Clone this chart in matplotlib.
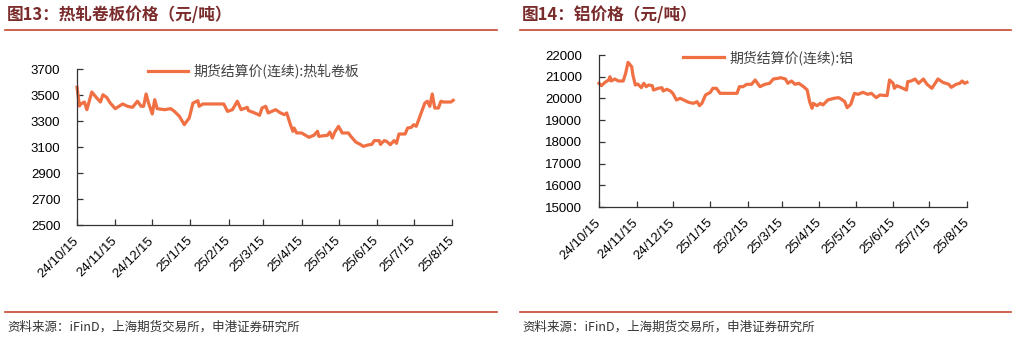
import matplotlib
matplotlib.use('Agg')
import matplotlib.pyplot as plt
import matplotlib.transforms as mtransforms
from matplotlib.lines import Line2D
import pandas as pd

# 热轧卷板 期货结算价(连续), 元/吨
hrc_dates = ['2024-10-15', '2024-10-17', '2024-10-18', '2024-10-21', '2024-10-23', '2024-10-27',
             '2024-10-31', '2024-11-03', '2024-11-05', '2024-11-08', '2024-11-11', '2024-11-15',
             '2024-11-21', '2024-11-25', '2024-11-29', '2024-12-03', '2024-12-06', '2024-12-08',
             '2024-12-10', '2024-12-12', '2024-12-15', '2024-12-17', '2024-12-19', '2024-12-25',
             '2024-12-30', '2025-01-02', '2025-01-06', '2025-01-10', '2025-01-14', '2025-01-17',
             '2025-01-21', '2025-01-22', '2025-01-25', '2025-02-11', '2025-02-14', '2025-02-18',
             '2025-02-22', '2025-02-25', '2025-03-02', '2025-03-03', '2025-03-08', '2025-03-12',
             '2025-03-14', '2025-03-17', '2025-03-19', '2025-03-25', '2025-03-29', '2025-04-01',
             '2025-04-03', '2025-04-06', '2025-04-08', '2025-04-09', '2025-04-11', '2025-04-15',
             '2025-04-21', '2025-04-25', '2025-04-28', '2025-04-29', '2025-05-06', '2025-05-08',
             '2025-05-10', '2025-05-12', '2025-05-15', '2025-05-18', '2025-05-23', '2025-05-25',
             '2025-05-29', '2025-06-02', '2025-06-04', '2025-06-09', '2025-06-11', '2025-06-13',
             '2025-06-17', '2025-06-18', '2025-06-21', '2025-06-23', '2025-06-26', '2025-06-29',
             '2025-07-01', '2025-07-03', '2025-07-08', '2025-07-10', '2025-07-13', '2025-07-15',
             '2025-07-17', '2025-07-19', '2025-07-22', '2025-07-24', '2025-07-26', '2025-07-28',
             '2025-07-30', '2025-08-01', '2025-08-04', '2025-08-06', '2025-08-08', '2025-08-14',
             '2025-08-16']
hrc_price = [3560, 3415, 3430, 3446, 3387, 3523,
             3477, 3446, 3502, 3482, 3438, 3395,
             3431, 3413, 3405, 3452, 3413, 3413,
             3508, 3438, 3354, 3464, 3395, 3387,
             3395, 3374, 3336, 3272, 3323, 3438,
             3456, 3413, 3431, 3431, 3374, 3387,
             3452, 3387, 3405, 3380, 3362, 3344,
             3400, 3413, 3362, 3387, 3362, 3349,
             3362, 3272, 3221, 3246, 3208, 3208,
             3175, 3190, 3221, 3182, 3190, 3215,
             3169, 3215, 3259, 3208, 3208, 3182,
             3138, 3118, 3105, 3118, 3120, 3149,
             3149, 3120, 3149, 3143, 3118, 3149,
             3128, 3200, 3200, 3246, 3251, 3272,
             3259, 3310, 3387, 3438, 3452, 3413,
             3508, 3400, 3400, 3452, 3446, 3446,
             3459]

# 铝 期货结算价(连续), 元/吨
al_dates = ['2024-10-15', '2024-10-17', '2024-10-20', '2024-10-23', '2024-10-24', '2024-10-25',
            '2024-10-28', '2024-10-31', '2024-11-04', '2024-11-06', '2024-11-08', '2024-11-11',
            '2024-11-12', '2024-11-14', '2024-11-16', '2024-11-19', '2024-11-21', '2024-11-23',
            '2024-11-25', '2024-11-28', '2024-11-29', '2024-12-03', '2024-12-06', '2024-12-07',
            '2024-12-10', '2024-12-13', '2024-12-15', '2024-12-18', '2024-12-21', '2024-12-24',
            '2024-12-28', '2025-01-01', '2025-01-04', '2025-01-06', '2025-01-08', '2025-01-11',
            '2025-01-15', '2025-01-17', '2025-01-20', '2025-01-23', '2025-01-30', '2025-02-06',
            '2025-02-08', '2025-02-11', '2025-02-14', '2025-02-18', '2025-02-21', '2025-02-25',
            '2025-03-01', '2025-03-05', '2025-03-08', '2025-03-12', '2025-03-14', '2025-03-18',
            '2025-03-20', '2025-03-23', '2025-03-26', '2025-03-29', '2025-04-02', '2025-04-05',
            '2025-04-07', '2025-04-09', '2025-04-10', '2025-04-13', '2025-04-16', '2025-04-18',
            '2025-04-22', '2025-04-27', '2025-05-01', '2025-05-03', '2025-05-06', '2025-05-08',
            '2025-05-11', '2025-05-14', '2025-05-17', '2025-05-21', '2025-05-25', '2025-05-28',
            '2025-06-01', '2025-06-04', '2025-06-10', '2025-06-12', '2025-06-15', '2025-06-16',
            '2025-06-18', '2025-06-22', '2025-06-26', '2025-06-27', '2025-06-30', '2025-07-03',
            '2025-07-06', '2025-07-10', '2025-07-13', '2025-07-17', '2025-07-22', '2025-07-26',
            '2025-07-31', '2025-08-02', '2025-08-06', '2025-08-09', '2025-08-11', '2025-08-13',
            '2025-08-15']
al_price = [20697, 20587, 20742, 20849, 21000, 20803,
            20895, 20803, 20803, 21157, 21664, 21462,
            21079, 20619, 20665, 20495, 20697, 20541,
            20619, 20587, 20388, 20465, 20495, 20342,
            20419, 20342, 20235, 19928, 20005, 19928,
            19821, 19774, 19851, 19667, 19774, 20158,
            20281, 20465, 20465, 20235, 20235, 20235,
            20541, 20541, 20649, 20649, 20849, 20541,
            20649, 20697, 20895, 20926, 20955, 20895,
            20697, 20803, 20649, 20697, 20541, 20388,
            19851, 19544, 19774, 19667, 19774, 19698,
            19928, 20005, 20035, 19974, 19851, 19575,
            19729, 20235, 20189, 20281, 20189, 20235,
            20035, 20158, 20127, 20849, 20697, 20465,
            20587, 20495, 20388, 20772, 20803, 20895,
            20697, 20895, 20649, 20465, 20895, 20742,
            20649, 20510, 20649, 20697, 20803, 20697,
            20742]

month_ticks = ['2024-10-15', '2024-11-15', '2024-12-15', '2025-01-15', '2025-02-15', '2025-03-15',
               '2025-04-15', '2025-05-15', '2025-06-15', '2025-07-15', '2025-08-15']

hrc_yticks = [2500, 2700, 2900, 3100, 3300, 3500, 3700]
al_yticks = [15000, 16000, 17000, 18000, 19000, 20000, 21000, 22000]

LINE = '#F07044'
TITLE = '#7A2B2B'
RULE = '#C4472C'
SANS = ['Liberation Sans', 'Noto Sans CJK SC']
CJK = ['Noto Sans CJK SC', 'DejaVu Sans']

W, H = 1017, 341
fig = plt.figure(figsize=(W / 100, H / 100), dpi=100)


def px_rect(x0, y0, x1, y1):
    return [x0 / W, 1 - y1 / H, (x1 - x0) / W, (y1 - y0) / H]


def draw_panel(rect, dates, values, yticks, label, legend_at):
    ax = fig.add_axes(rect)
    ticks = pd.to_datetime(month_ticks)
    ax.plot(pd.to_datetime(dates), values, color=LINE, lw=2.3, label=label,
            clip_on=False, solid_joinstyle='round')
    ax.set_xlim(ticks[0], ticks[-1])
    ax.set_ylim(yticks[0], yticks[-1])
    ax.set_yticks(yticks)
    ax.set_yticklabels([str(v) for v in yticks], fontfamily=SANS, fontsize=9.5)
    ax.set_xticks(ticks)
    ax.set_xticklabels(['%d/%d/%d' % (t.year % 100, t.month, t.day) for t in ticks],
                       rotation=45, ha='right', va='center', rotation_mode='anchor',
                       fontfamily=SANS, fontsize=9.5)
    shift = mtransforms.ScaledTranslation(4 / 72, 0, fig.dpi_scale_trans)
    for lab in ax.get_xticklabels():
        lab.set_transform(lab.get_transform() + shift)
    for s in ['top', 'right']:
        ax.spines[s].set_visible(False)
    for s in ['left', 'bottom']:
        ax.spines[s].set_color('#333333')
        ax.spines[s].set_linewidth(0.9)
    ax.tick_params(direction='in', length=4, width=0.9, color='#333333')
    ax.tick_params(axis='y', pad=12)
    ax.tick_params(axis='x', pad=10)
    leg = ax.legend(loc='center left', bbox_to_anchor=legend_at, frameon=False,
                    borderpad=0, borderaxespad=0, handlelength=2.9, handletextpad=0.4,
                    prop={'family': CJK, 'size': 10})
    for t in leg.get_texts():
        t.set_color('#404040')
    return ax


draw_panel(px_rect(77, 69, 452, 225), hrc_dates, hrc_price, hrc_yticks,
           '期货结算价(连续):热轧卷板', (0.189, 0.984))
draw_panel(px_rect(599, 55, 967, 207), al_dates, al_price, al_yticks,
           '期货结算价(连续):铝', (0.229, 0.982))

# titles, rules and source notes for both panels
for x0, x1, title in [(5, 497, '图13：热轧卷板价格（元/吨）'), (520, 1011, '图14：铝价格（元/吨）')]:
    fig.text((x0 + 2) / W, 1 - 15 / H, title, fontfamily=CJK, fontsize=12,
             fontweight='bold', color=TITLE, va='center', ha='left')
    for y in (30, 312):
        fig.add_artist(Line2D([x0 / W, x1 / W], [1 - y / H] * 2, transform=fig.transFigure,
                              color=RULE, lw=1.2))
    fig.text((x0 + 2) / W, 1 - 327 / H, '资料来源：iFinD，上海期货交易所，申港证券研究所',
             fontfamily=CJK, fontsize=9, color='#333333', va='center', ha='left')

fig.savefig('out.png', dpi=100, facecolor='white')
